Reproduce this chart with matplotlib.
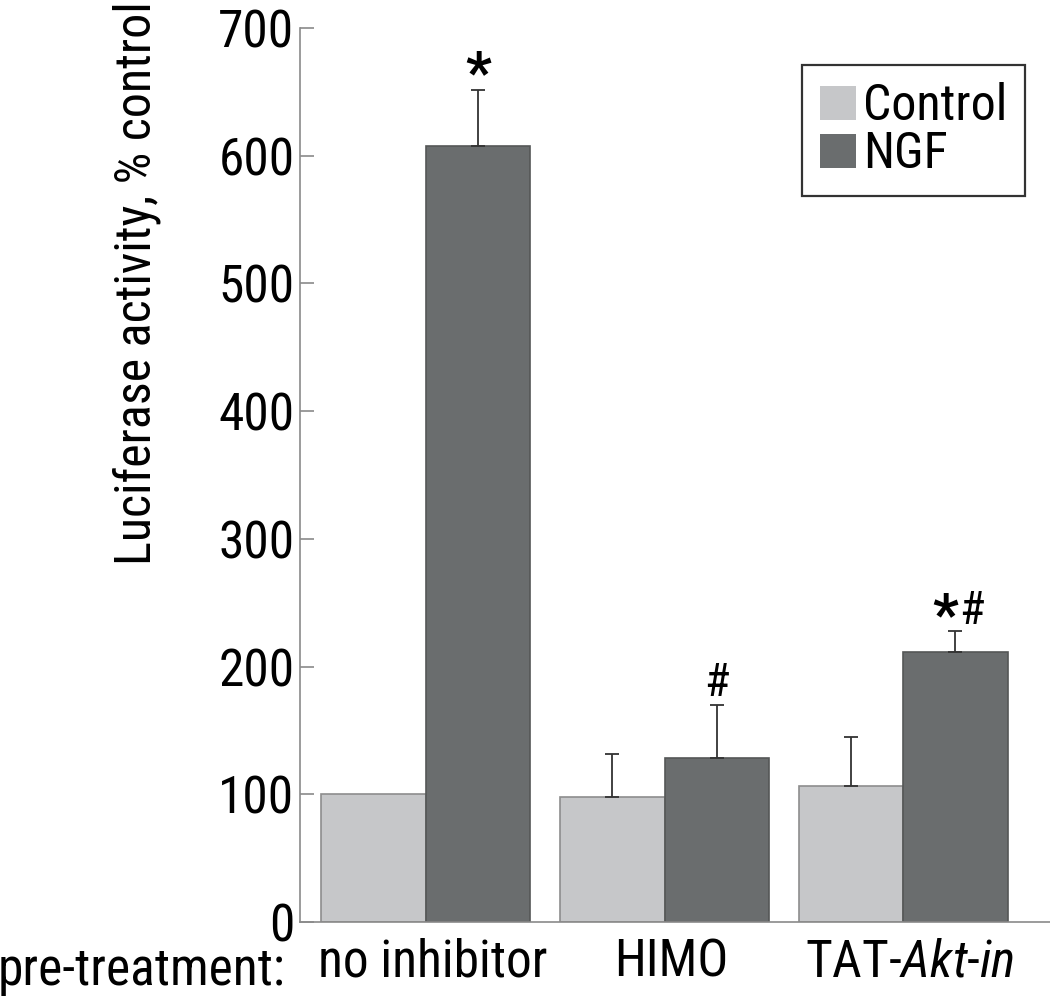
import matplotlib
matplotlib.use("Agg")
import matplotlib.pyplot as plt
import matplotlib.transforms as mtransforms
import numpy as np

# ---- data ------------------------------------------------------------
groups = ["no inhibitor", "HIMO", "TAT-$\\mathit{Akt}$-$\\mathit{in}$"]
control_mean = [100, 97.6, 106.7]
control_err = [0, 34, 38.5]
ngf_mean = [607.7, 128.4, 211.7]
ngf_err = [44, 41.3, 16]
marks = ["*", "#", "*#"]          # significance marks over the NGF bars

yticks = [0, 100, 200, 300, 400, 500, 600, 700]

CONTROL_COLOR = "#c6c7c9"
NGF_COLOR = "#6a6d6e"
AXIS_COLOR = "#8a8a8a"

FONT = "Roboto Condensed"
plt.rcParams["font.family"] = [FONT, "DejaVu Sans"]
plt.rcParams["mathtext.fontset"] = "custom"
plt.rcParams["mathtext.rm"] = FONT
plt.rcParams["mathtext.it"] = FONT + ":italic"

FS = 37

fig = plt.figure(figsize=(10.5, 9.99), dpi=100)
ax = fig.add_axes([300 / 1050, 77 / 999, 750 / 1050, 894 / 999])

x = np.arange(len(groups))
w = 0.438

ax.bar(x - w / 2, control_mean, w, color=CONTROL_COLOR, edgecolor="#8d8d8d",
       linewidth=1.2, label="Control")
ax.bar(x + w / 2, ngf_mean, w, color=NGF_COLOR, edgecolor="#555757",
       linewidth=1.2, label="NGF")

# upward-only error bars (skip the zero one on the normalised control)
c_err = np.array(control_err, dtype=float)
has = c_err > 0
ax.errorbar((x - w / 2)[has], np.array(control_mean)[has],
            yerr=[np.zeros(has.sum()), c_err[has]], fmt="none",
            ecolor="#333333", elinewidth=1.3, capsize=5, capthick=1.3)
ax.errorbar(x + w / 2, ngf_mean, yerr=[np.zeros(3), ngf_err], fmt="none",
            ecolor="#333333", elinewidth=1.3, capsize=5, capthick=1.3)

for i, m in enumerate(marks):
    top = ngf_mean[i] + ngf_err[i]
    if m == "*":
        ax.annotate(m, (x[i] + w / 2, top), xytext=(0, -10), textcoords="offset points",
                    ha="center", va="bottom", fontsize=FS + 4, fontweight="bold")
    elif m == "#":
        ax.annotate(m, (x[i] + w / 2, top), xytext=(0, 0), textcoords="offset points",
                    ha="center", va="bottom", fontsize=FS - 4)
    else:
        ax.annotate("*", (x[i] + w / 2, top), xytext=(-7, -10), textcoords="offset points",
                    ha="center", va="bottom", fontsize=FS + 4, fontweight="bold")
        ax.annotate("#", (x[i] + w / 2, top), xytext=(12, -1), textcoords="offset points",
                    ha="center", va="bottom", fontsize=FS - 4)

ax.set_xlim(-0.528, 2.616)
ax.set_ylim(0, 700)
ax.set_yticks(yticks)
ax.set_yticklabels([str(t) for t in yticks], fontsize=FS)
ax.set_xticks(x)
ax.set_xticklabels(groups, fontsize=FS)
ax.tick_params(axis="y", direction="in", length=10, width=1.2, color=AXIS_COLOR, pad=4)
ax.tick_params(axis="x", length=0, pad=11)

# the group names sit a little right of the group centres in the original
shift = mtransforms.ScaledTranslation(7 / 100, 0, fig.dpi_scale_trans)
for lab in ax.get_xticklabels():
    lab.set_transform(lab.get_transform() + shift)

for side in ["top", "right"]:
    ax.spines[side].set_visible(False)
for side in ["left", "bottom"]:
    ax.spines[side].set_color(AXIS_COLOR)
    ax.spines[side].set_linewidth(1.2)

fig.text(137 / 1050, 1 - 283 / 999, "Luciferase activity, % control", rotation=90,
         ha="center", va="center", fontsize=FS - 1)
fig.text(-2 / 1050, 1 - 971 / 999, "pre-treatment:", ha="left", va="center", fontsize=FS)

leg = ax.legend(loc="upper left", bbox_to_anchor=(802 / 1050, 1 - 65 / 999),
                bbox_transform=fig.transFigure, fontsize=FS - 1, frameon=True, fancybox=False,
                handlelength=0.72, handleheight=0.66, handletextpad=0.16,
                labelspacing=0.0, borderpad=0.35, borderaxespad=0)
leg.get_frame().set_edgecolor("black")
leg.get_frame().set_linewidth(1.6)
for h in leg.legend_handles:
    h.set_edgecolor("none")

fig.savefig("out.png", dpi=100)
